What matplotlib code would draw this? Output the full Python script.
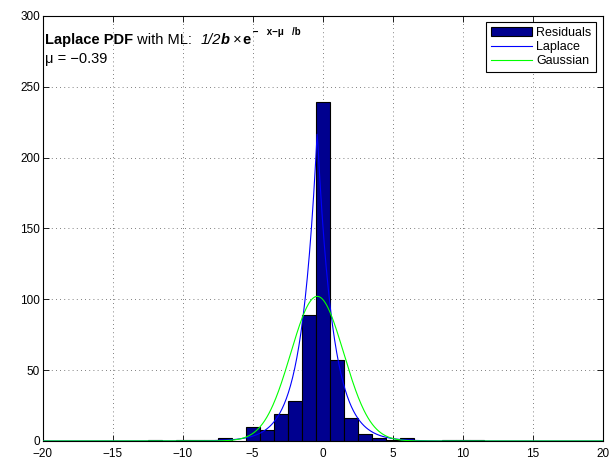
import numpy as np
import matplotlib.pyplot as plt

plt.rcParams['font.family'] = ['Liberation Sans', 'DejaVu Sans']

# histogram of residuals (bin centres, counts)
bin_centers = [-12, -10, -9, -8, -7, -5, -4, -3, -2, -1, 0, 1, 2, 3, 4, 5, 6, 9, 10, 11]
counts = [1, 1, 1, 1, 2, 10, 8, 19, 28, 89, 239, 57, 16, 5, 2, 1, 2, 1, 1, 1]
bin_width = 1.0

# fitted parameters
mu = -0.39
lap_b = 1.11
gauss_mu = -0.39
gauss_sigma = 1.895

n_total = sum(counts)
x = np.linspace(-20, 20, 801)
laplace = n_total * bin_width / (2 * lap_b) * np.exp(-np.abs(x - mu) / lap_b)
gauss = n_total * bin_width / (np.sqrt(2 * np.pi) * gauss_sigma) * np.exp(-0.5 * ((x - gauss_mu) / gauss_sigma) ** 2)

fig = plt.figure(figsize=(6.1, 4.61), dpi=100)
ax = fig.add_axes([0.07, 0.0434, 0.918, 0.9219])

bars = ax.bar(bin_centers, counts, width=bin_width, color='#00008F', edgecolor='black',
              linewidth=0.8, zorder=2)
l1, = ax.plot(x, laplace, color='#0000FF', linewidth=0.8, zorder=3)
l2, = ax.plot(x, gauss, color='#00FF00', linewidth=0.8, zorder=3)

ax.set_xlim(-20, 20)
ax.set_ylim(0, 300)
ax.set_xticks(range(-20, 21, 5))
ax.set_yticks(range(0, 301, 50))
ax.set_xticklabels([str(t).replace('-', '\u2212') for t in range(-20, 21, 5)])
ax.tick_params(direction='in', length=4, labelsize=8.5, top=True, right=True, width=0.6)
ax.tick_params(axis='x', pad=5)
ax.tick_params(axis='y', pad=2)
ax.grid(True, linestyle=(0, (1, 4)), color='#555555', linewidth=0.6)
ax.set_axisbelow(True)
for s in ax.spines.values():
    s.set_linewidth(0.8)

# title text built from pieces so the font styles match
t = ax.text(0.004, 0.926, "Laplace PDF", transform=ax.transAxes, fontsize=10.5,
            fontweight='bold', ha='left', va='bottom')
pieces = [(" with ML:  ", 'normal', 'normal'),
          ("1/2", 'normal', 'italic'),
          ("b", 'bold', 'italic'),
          (" \u00d7", 'normal', 'normal'),
          ("e", 'bold', 'normal')]
for txt, fw, fs in pieces:
    t = ax.annotate(txt, xy=(1, 0), xycoords=t, fontsize=10.5, fontweight=fw,
                    fontstyle=fs, ha='left', va='bottom')
ax.annotate(" \u2212   x\u2212\u03bc   /b", xy=(1, 0.75), xycoords=t, fontsize=7,
            fontweight='bold', ha='left', va='bottom')
ax.text(0.004, 0.883, "\u03bc = \u22120.39", transform=ax.transAxes,
        fontsize=10.5, ha='left', va='bottom')

leg = ax.legend([bars, l1, l2], ['Residuals', 'Laplace', 'Gaussian'],
                loc='upper right', fontsize=9, fancybox=False, edgecolor='black',
                framealpha=1, borderaxespad=0.5, handlelength=3.3, handletextpad=0.3,
                labelspacing=0.15, borderpad=0.4)
leg.get_frame().set_linewidth(0.8)

fig.savefig('out.png', dpi=100)
